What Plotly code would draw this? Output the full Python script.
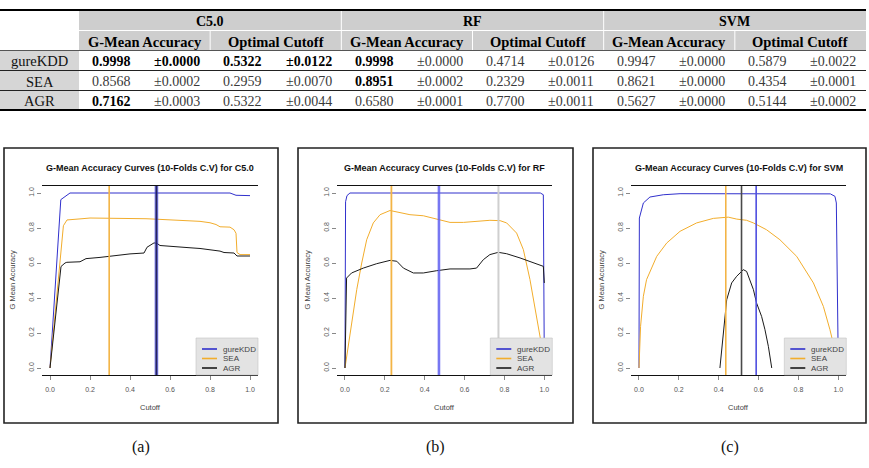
import plotly.graph_objects as go

W, H = 869, 468

# ------------------------------------------------------------------ table data
models = ["C5.0", "RF", "SVM"]
datasets = ["gureKDD", "SEA", "AGR"]
sub_headers = ["G-Mean Accuracy", "Optimal Cutoff"]

c50_gmean = [0.9998, 0.8568, 0.7162]
c50_gmean_sd = [0.0000, 0.0002, 0.0003]
c50_cut = [0.5322, 0.2959, 0.5322]
c50_cut_sd = [0.0122, 0.0070, 0.0044]

rf_gmean = [0.9998, 0.8951, 0.6580]
rf_gmean_sd = [0.0000, 0.0002, 0.0001]
rf_cut = [0.4714, 0.2329, 0.7700]
rf_cut_sd = [0.0126, 0.0011, 0.0011]

svm_gmean = [0.9947, 0.8621, 0.5627]
svm_gmean_sd = [0.0000, 0.0000, 0.0000]
svm_cut = [0.5879, 0.4354, 0.5144]
svm_cut_sd = [0.0022, 0.0001, 0.0002]

# (row, column) of the cells printed in bold
bold_cells = [(0, 0), (0, 1), (0, 2), (0, 3), (0, 4), (1, 4), (2, 0)]

# ------------------------------------------------------------------ curve data
# C5.0
c50_gure_x = [0.0, 0.054, 0.10, 0.90, 0.93, 1.0]
c50_gure_y = [0.0, 0.962, 1.0, 1.0, 0.987, 0.985]
c50_sea_x = [0.0, 0.067, 0.085, 0.10, 0.15, 0.20, 0.30, 0.40, 0.48, 0.52, 0.60, 0.70, 0.75,
             0.80, 0.83, 0.85, 0.90, 0.92, 0.93, 0.935, 0.95, 1.0]
c50_sea_y = [0.0, 0.813, 0.846, 0.848, 0.852, 0.857, 0.857, 0.857, 0.853, 0.851, 0.847, 0.843,
             0.838, 0.830, 0.820, 0.807, 0.805, 0.790, 0.770, 0.660, 0.648, 0.648]
c50_agr_x = [0.0, 0.055, 0.075, 0.084, 0.15, 0.18, 0.25, 0.30, 0.35, 0.40, 0.47, 0.485, 0.52,
             0.535, 0.55, 0.60, 0.65, 0.70, 0.75, 0.80, 0.85, 0.87, 0.92, 0.935, 1.0]
c50_agr_y = [0.0, 0.580, 0.600, 0.604, 0.607, 0.625, 0.632, 0.640, 0.645, 0.652, 0.657, 0.690,
             0.715, 0.712, 0.700, 0.697, 0.690, 0.687, 0.683, 0.676, 0.668, 0.660, 0.657,
             0.640, 0.640]
# RF
rf_gure_x = [0.0, 0.003, 0.01, 0.025, 0.98, 0.995, 1.0]
rf_gure_y = [0.0, 0.950, 0.985, 1.0, 1.0, 0.990, 0.0]
rf_sea_x = [0.0, 0.033, 0.059, 0.084, 0.109, 0.142, 0.176, 0.226, 0.276, 0.326, 0.393, 0.443,
            0.493, 0.527, 0.594, 0.660, 0.727, 0.778, 0.811, 0.861, 0.895, 0.928, 0.962,
            0.990, 1.0]
rf_sea_y = [0.0, 0.238, 0.448, 0.600, 0.733, 0.829, 0.876, 0.900, 0.890, 0.876, 0.870, 0.857,
            0.842, 0.832, 0.832, 0.838, 0.844, 0.842, 0.829, 0.771, 0.676, 0.505, 0.295,
            0.105, 0.0]
rf_agr_x = [0.0, 0.008, 0.033, 0.092, 0.159, 0.226, 0.260, 0.293, 0.343, 0.393, 0.460, 0.527,
            0.627, 0.660, 0.694, 0.727, 0.769, 0.811, 0.878, 0.928, 0.978, 0.995, 1.0]
rf_agr_y = [0.0, 0.514, 0.543, 0.571, 0.596, 0.615, 0.610, 0.571, 0.543, 0.543, 0.556, 0.566,
            0.566, 0.571, 0.619, 0.648, 0.661, 0.653, 0.629, 0.610, 0.590, 0.581, 0.486]
# SVM
svm_gure_x = [0.0, 0.002, 0.022, 0.055, 0.122, 0.206, 0.96, 0.983, 0.99, 1.0]
svm_gure_y = [0.0, 0.857, 0.943, 0.977, 0.990, 0.996, 0.995, 0.981, 0.943, 0.0]
svm_sea_x = [0.0, 0.008, 0.022, 0.038, 0.089, 0.139, 0.206, 0.289, 0.373, 0.448, 0.490, 0.540,
             0.574, 0.640, 0.707, 0.791, 0.875, 0.925, 0.958, 0.975, 0.990, 1.0]
svm_sea_y = [0.0, 0.238, 0.410, 0.505, 0.638, 0.714, 0.781, 0.829, 0.855, 0.862, 0.851, 0.844,
             0.829, 0.790, 0.733, 0.638, 0.486, 0.352, 0.219, 0.143, 0.067, 0.0]
svm_agr_x = [0.406, 0.44, 0.465, 0.49, 0.515, 0.523, 0.54, 0.557, 0.574, 0.59, 0.615, 0.632,
             0.649, 0.666]
svm_agr_y = [0.0, 0.390, 0.486, 0.524, 0.552, 0.562, 0.552, 0.505, 0.448, 0.371, 0.295, 0.219,
             0.124, 0.0]

xticks = [0.0, 0.2, 0.4, 0.6, 0.8, 1.0]
yticks = [0.0, 0.2, 0.4, 0.6, 0.8, 1.0]
captions = ["(a)", "(b)", "(c)"]

# ------------------------------------------------------------------ helpers
def px(x):
    return x / W


def py(y):
    return 1 - y / H


SERIF = "Liberation Serif"
SANS = "Liberation Sans"
series_colors = ["#3030cc", "#f2ad2c", "#1a1a1a"]

fig = go.Figure()
shapes = []
annots = []

# ------------------------------------------------------------------ table
T_X0, T_X1, LAB_W = 0.0, 866.0, 79.0
COL_W = (T_X1 - T_X0 - LAB_W) / 12
ROWS = [10.0, 30.5, 50.5, 70.5, 90.5, 110.0]


def rect(x0, y0, x1, y1, fill, line=None, lw=0):
    shapes.append(dict(type="rect", xref="paper", yref="paper",
                       x0=px(x0), x1=px(x1), y0=py(y1), y1=py(y0),
                       fillcolor=fill, line=dict(color=line or fill, width=lw),
                       layer="above"))


def hline(x0, x1, y, color, w):
    shapes.append(dict(type="line", xref="paper", yref="paper",
                       x0=px(x0), x1=px(x1), y0=py(y), y1=py(y),
                       line=dict(color=color, width=w), layer="above"))


def vline(x, y0, y1, color, w):
    shapes.append(dict(type="line", xref="paper", yref="paper",
                       x0=px(x), x1=px(x), y0=py(y0), y1=py(y1),
                       line=dict(color=color, width=w), layer="above"))


def text(x, y, s, size, family=SERIF, color="#111", bold=False, **kw):
    annots.append(dict(xref="paper", yref="paper", x=px(x), y=py(y),
                       text=("<b>%s</b>" % s) if bold else s, showarrow=False,
                       xanchor=kw.pop("xanchor", "center"), yanchor=kw.pop("yanchor", "middle"),
                       font=dict(family=family, size=size, color=color), **kw))


rect(T_X0 + LAB_W, ROWS[0], T_X1, ROWS[2], "#cecece")
rect(T_X0, ROWS[2], T_X0 + LAB_W, ROWS[5], "#d6d6d6")
hline(T_X0 + LAB_W, T_X1, ROWS[1], "#ffffff", 1)
for g in range(1, 3):
    vline(T_X0 + LAB_W + 4 * g * COL_W, ROWS[0], ROWS[2], "#ffffff", 1)
for s in range(1, 6, 2):
    vline(T_X0 + LAB_W + 2 * s * COL_W, ROWS[1], ROWS[2], "#ffffff", 1)
hline(T_X0, T_X1, ROWS[2], "#555555", 1)
hline(T_X0, T_X1, ROWS[3], "#222222", 1)
hline(T_X0, T_X1, ROWS[4], "#222222", 1)
hline(T_X0, T_X1, ROWS[0], "#000000", 2.2)
hline(T_X0, T_X1, ROWS[5], "#000000", 2.2)

for g, m in enumerate(models):
    cx = T_X0 + LAB_W + (4 * g + 2) * COL_W
    text(cx, (ROWS[0] + ROWS[1]) / 2 + 1, m, 14, bold=True, color="#000")
    for s, sh in enumerate(sub_headers):
        cx = T_X0 + LAB_W + (4 * g + 2 * s + 1) * COL_W
        text(cx, (ROWS[1] + ROWS[2]) / 2 + 1, sh, 14.5, bold=True, color="#000")

table_cols = [c50_gmean, c50_gmean_sd, c50_cut, c50_cut_sd,
              rf_gmean, rf_gmean_sd, rf_cut, rf_cut_sd,
              svm_gmean, svm_gmean_sd, svm_cut, svm_cut_sd]
for r, ds in enumerate(datasets):
    yc = (ROWS[r + 2] + ROWS[r + 3]) / 2 + 1
    text(T_X0 + LAB_W / 2, yc, ds, 14.5, color="#111")
    for c, col in enumerate(table_cols):
        s = ("%.4f" % col[r]) if c % 2 == 0 else ("\u00b1%.4f" % col[r])
        b = (r, c) in bold_cells
        text(T_X0 + LAB_W + (c + 0.5) * COL_W, yc, s, 14,
             bold=b, color="#000" if b else "#3a3a3a")

# ------------------------------------------------------------------ charts
frames = [(4, 278), (298, 573), (593, 866)]
FR_TOP, FR_BOT = 148, 423
box_x = [(42, 258), (337, 552.3), (631, 846.3)]
BOX_TOP, BOX_BOT = 186, 375

curves = [
    [(c50_gure_x, c50_gure_y), (c50_sea_x, c50_sea_y), (c50_agr_x, c50_agr_y)],
    [(rf_gure_x, rf_gure_y), (rf_sea_x, rf_sea_y), (rf_agr_x, rf_agr_y)],
    [(svm_gure_x, svm_gure_y), (svm_sea_x, svm_sea_y), (svm_agr_x, svm_agr_y)],
]
cutoffs = [c50_cut, rf_cut, svm_cut]
# style of the optimal-cutoff lines (gureKDD, SEA, AGR) per panel
cut_styles = [
    [("rgba(70,70,215,0.75)", 3.6), ("#f3b445", 1.6), ("rgba(25,25,70,0.85)", 1.6)],
    [("rgba(95,95,240,0.85)", 2.6), ("#f3b445", 1.8), ("#cfcfcf", 2.0)],
    [("#4f4fe0", 1.6), ("#f3b445", 1.6), ("#4a4a4a", 1.6)],
]
cut_order = [1, 0, 2]

for p in range(3):
    xa = "xaxis" if p == 0 else "xaxis%d" % (p + 1)
    ya = "yaxis" if p == 0 else "yaxis%d" % (p + 1)
    xr = "x" if p == 0 else "x%d" % (p + 1)
    yr = "y" if p == 0 else "y%d" % (p + 1)
    bx0, bx1 = box_x[p]

    # outer frame
    rect(frames[p][0], FR_TOP, frames[p][1], FR_BOT, "rgba(0,0,0,0)", "#222", 1.6)

    for d in range(3):
        xs, ys = curves[p][d]
        fig.add_trace(go.Scatter(x=xs, y=ys, mode="lines", name=datasets[d],
                                 line=dict(color=series_colors[d], width=1.0),
                                 xaxis=xr, yaxis=yr, showlegend=False,
                                 hoverinfo="skip"))

    for d in cut_order:
        col, w = cut_styles[p][d]
        shapes.append(dict(type="line", xref=xr, yref=yr + " domain",
                           x0=cutoffs[p][d], x1=cutoffs[p][d], y0=0, y1=1,
                           line=dict(color=col, width=w), layer="above"))

    fig.layout[xa] = dict(domain=[px(bx0), px(bx1)], range=[-0.04, 1.04],
                          anchor=yr, showgrid=False, zeroline=False,
                          showline=True, mirror=True, linecolor="#111", linewidth=1.4,
                          tickvals=xticks, tickformat=".1f", ticks="outside",
                          ticklen=4, tickcolor="#888", tickwidth=1,
                          tickfont=dict(family=SANS, size=7, color="#555"),
                          ticklabelstandoff=3)
    fig.layout[ya] = dict(domain=[py(BOX_BOT), py(BOX_TOP)], range=[-0.04, 1.04],
                          anchor=xr, showgrid=False, zeroline=False, showline=False,
                          tickvals=yticks, tickformat=".1f", ticks="outside",
                          ticklen=4, tickcolor="#888", tickwidth=1, tickangle=-90,
                          tickfont=dict(family=SANS, size=7, color="#555"))

    cx = (bx0 + bx1) / 2
    text(cx, BOX_TOP - 18, "G-Mean Accuracy Curves (10-Folds C.V) for %s" % models[p],
         9, family=SANS, bold=True, color="#111")
    text(cx, BOX_BOT + 32, "Cutoff", 7.5, family=SANS, color="#444")
    text(bx0 - 30, (BOX_TOP + BOX_BOT) / 2, "G Mean Accuracy", 7.5, family=SANS,
         color="#444", textangle=-90)

    # legend box (bottom-right of the plotting region)
    lx0, lx1, ly0, ly1 = bx1 - 62, bx1, BOX_BOT - 37, BOX_BOT
    rect(lx0, ly0, lx1, ly1, "#e3e3e3", "#c4c4c4", 0.6)
    for d in range(3):
        yy = ly0 + 11 + 9.5 * d
        hline(lx0 + 6, lx0 + 21, yy, series_colors[d], 1.6)
        text(lx0 + 25, yy, datasets[d], 8, family=SANS, color="#444", xanchor="left")

    text((frames[p][0] + frames[p][1]) / 2, 447, captions[p], 16, color="#111")

fig.update_layout(width=W, height=H, margin=dict(l=0, r=0, t=0, b=0),
                  paper_bgcolor="white", plot_bgcolor="white",
                  shapes=shapes, annotations=annots, showlegend=False)

fig.write_html("out.html")
